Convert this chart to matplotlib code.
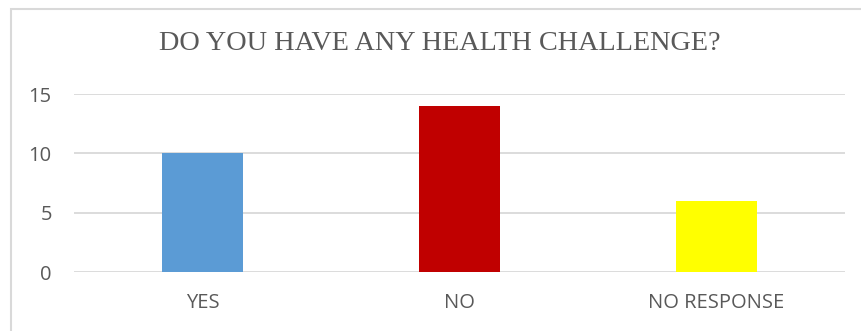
import matplotlib.pyplot as plt
from matplotlib.patches import Rectangle

categories = ["YES", "NO", "NO RESPONSE"]
counts = [10, 14, 6]
bar_colors = ["#5B9BD5", "#C00000", "#FFFF00"]
yticks = [0, 5, 10, 15]

W, H = 861, 331
fig = plt.figure(figsize=(W / 100, H / 100), dpi=100)
ax = fig.add_axes([74 / W, 59 / H, 771 / W, 178 / H])

ax.bar(range(len(categories)), counts, width=0.315, color=bar_colors, zorder=3)
ax.set_xlim(-0.5, len(categories) - 0.5)
ax.set_ylim(0, 15)
ax.set_yticks(yticks)
ax.set_xticks(range(len(categories)))
ax.set_xticklabels(categories)

ax.grid(axis="y", color="#d9d9d9", linewidth=1.3, zorder=0)
for s in ax.spines.values():
    s.set_visible(False)
ax.tick_params(length=0, colors="#595959", labelsize=14.5)
ax.tick_params(axis="y", pad=16)
ax.tick_params(axis="x", pad=15)
for lbl in ax.get_xticklabels() + ax.get_yticklabels():
    lbl.set_fontfamily("Open Sans")

fig.text(440 / W, 1 - 43 / H, "DO YOU HAVE ANY HEALTH CHALLENGE?",
         ha="center", va="center", fontsize=20.3, color="#595959",
         family="Liberation Serif")

# chart frame
fig.patches.append(Rectangle((10.5 / W, -0.1), 1.2, 1.1 - 9.5 / H,
                             transform=fig.transFigure, fill=False,
                             edgecolor="#d9d9d9", linewidth=1.5))

fig.savefig("out.png", dpi=100)
